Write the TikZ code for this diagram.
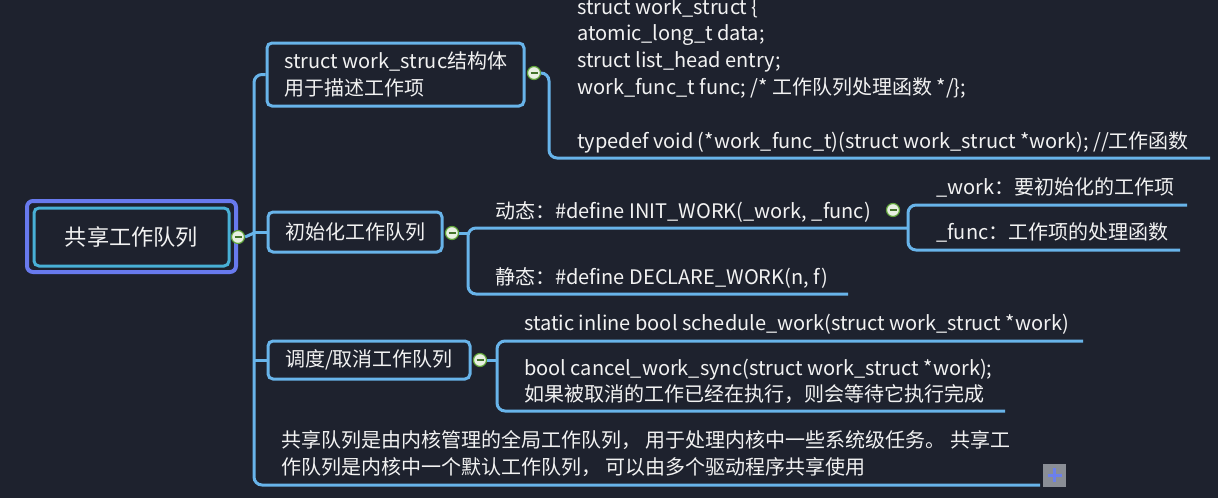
\documentclass[tikz,border=0pt]{standalone}
\usepackage{fontspec}
\setmainfont{Noto Sans CJK SC}
\definecolor{bg}{RGB}{30,34,46}
\definecolor{ln}{RGB}{104,180,234}
\definecolor{rootout}{RGB}{104,122,238}
\definecolor{rootin}{RGB}{72,176,214}
\definecolor{txt}{RGB}{242,242,242}
\definecolor{cgreen}{RGB}{96,164,58}
\definecolor{cfill}{RGB}{232,240,226}
\definecolor{plusbg}{RGB}{138,142,150}
\definecolor{plusfg}{RGB}{108,128,236}
\begin{document}
\begin{tikzpicture}[x=1pt,y=-1pt,
  conn/.style={draw=ln,line width=3pt,rounded corners=8pt},
  branchbox/.style={draw=ln,line width=3pt,rounded corners=5pt,fill=bg,inner sep=0pt},
  tx/.style={text=txt,anchor=base west,inner sep=0pt,font=\fontsize{20}{27}\selectfont},
  collapse/.style={circle,draw=cgreen,line width=1.2pt,fill=cfill,minimum size=13pt,inner sep=0pt,
    path picture={\draw[cgreen!70!black,line width=1.3pt] ([xshift=-3.5pt]path picture bounding box.center) -- ([xshift=3.5pt]path picture bounding box.center);}}]
\fill[bg] (0,0) rectangle (1218,498);
\useasboundingbox (0,0) rectangle (1218,498);

% ---------- trunk ----------
\node[branchbox,minimum width=257pt,minimum height=63pt] (b1) at (395.5,74.5) {};
\node[branchbox,minimum width=174pt,minimum height=40pt] (b2) at (355,232) {};
\node[branchbox,minimum width=202pt,minimum height=38pt] (b3) at (369,360) {};
\coordinate (t2) at (254,232);
\coordinate (t3) at (254,360);
\coordinate (tb) at (254,485);
\coordinate (e4) at (1040,485);
\draw[conn] (b1.west) -| (tb) -- (e4);
\draw[conn] (t2) -- (b2.west);
\draw[conn] (t3) -- (b3.west);

% ---------- root ----------
\node[draw=rootout,line width=4pt,rounded corners=6pt,minimum width=209pt,minimum height=71pt,fill=bg] (rootout) at (131.5,236.5) {};
\node[draw=rootin,line width=3pt,rounded corners=5pt,minimum width=195pt,minimum height=58pt,text=txt,font=\fontsize{22.2}{26}\selectfont] (root) at (131.5,237) {共享工作队列};
\node[collapse] (c0) at (238,237) {};
\coordinate (t0) at (254,233);
\draw[conn] (c0.east) -- (t0);

% ---------- branch 1 ----------
\node[tx] (b1l1) at (284,68) {struct work\_struc结构体};
\node[tx] (b1l2) at (284,95) {用于描述工作项};
\node[collapse] (c1) at (534,73) {};
\coordinate (k1) at (549,158);
\coordinate (k1e) at (1210,158);
\draw[conn] (c1.east) -| (k1) -- (k1e);
\node[tx] (s1) at (577,14) {struct work\_struct \{};
\node[tx] (s2) at (577,40) {atomic\_long\_t data;};
\node[tx] (s3) at (577,67) {struct list\_head entry;};
\node[tx] (s4) at (577,94) {work\_func\_t func; /* 工作队列处理函数 */\};};
\node[tx] (s5) at (577,148) {typedef void (*work\_func\_t)(struct work\_struct *work); //工作函数};

% ---------- branch 2 ----------
\node[tx] at (b2.center) [anchor=center] (b2t) {初始化工作队列};
\node[collapse] (c2) at (452,233) {};
\coordinate (v2) at (468,233);
\coordinate (d1) at (908,228);
\coordinate (d2s) at (468,294);
\coordinate (d2) at (848,294);
\draw[conn] (c2.east) -- (v2);
\draw[conn] (d1) -| (d2s) -- (d2);
\node[tx] (dyn) at (495,218) {动态：\#define INIT\_WORK(\_work, \_func)};
\node[tx] (sta) at (495,284) {静态：\#define DECLARE\_WORK(n, f)};
\node[collapse] (c3) at (893,210) {};
\coordinate (w1) at (1187,205);
\coordinate (w2s) at (908,250);
\coordinate (w2) at (1180,250);
\draw[conn] (w1) -| (w2s) -- (w2);
\node[tx] (pw) at (936,194) {\_work：要初始化的工作项};
\node[tx] (pf) at (936,239) {\_func：工作项的处理函数};

% ---------- branch 3 ----------
\node[tx] at (b3.center) [anchor=center] (b3t) {调度/取消工作队列};
\node[collapse] (c4) at (480,360) {};
\coordinate (v3) at (497,360);
\coordinate (g1) at (1083,341);
\coordinate (g2s) at (497,411);
\coordinate (g2) at (1005,411);
\draw[conn] (c4.east) -- (v3);
\draw[conn] (g1) -| (g2s) -- (g2);
\node[tx] (sch) at (524,330) {static inline bool schedule\_work(struct work\_struct *work)};
\node[tx] (can1) at (524,375) {bool cancel\_work\_sync(struct work\_struct *work);};
\node[tx] (can2) at (524,401) {如果被取消的工作已经在执行，则会等待它执行完成};

% ---------- branch 4 ----------
\node[tx] (sh1) at (281,447) {共享队列是由内核管理的全局工作队列， 用于处理内核中一些系统级任务。 共享工};
\node[tx] (sh2) at (281,474) {作队列是内核中一个默认工作队列， 可以由多个驱动程序共享使用};
\node[fill=plusbg,minimum size=23pt,inner sep=0pt,
  path picture={\draw[plusfg,line width=3pt] ([xshift=-7pt]path picture bounding box.center) -- ([xshift=7pt]path picture bounding box.center);
  \draw[plusfg,line width=3pt] ([yshift=-7pt]path picture bounding box.center) -- ([yshift=7pt]path picture bounding box.center);}] (plus) at (1054.5,475) {};
\end{tikzpicture}
\end{document}
